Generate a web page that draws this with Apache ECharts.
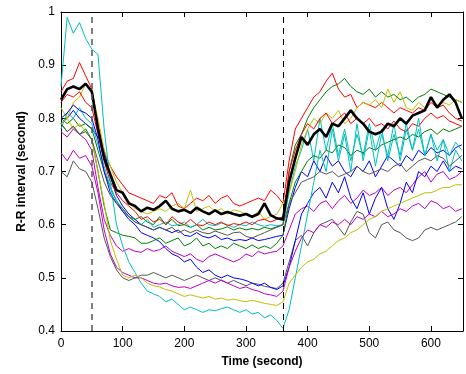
<!DOCTYPE html>
<html>
<head>
<meta charset="utf-8">
<script src="https://cdn.jsdelivr.net/npm/echarts@6/dist/echarts.min.js"></script>
<style>html,body{margin:0;padding:0;background:#fff}#c{width:466px;height:374px}</style>
</head>
<body>
<div id="c"></div>
<script>
const time = [0,10,20,30,40,50,60,70,80,90,100,110,120,130,140,150,160,170,180,190,200,210,220,230,240,250,260,270,280,290,300,310,320,330,340,350,360,370,380,390,400,410,420,430,440,450,460,470,480,490,500,510,520,530,540,550,560,570,580,590,600,610,620,630,640,650];
const eventTimes = [50, 360];
const xTicks = [0,100,200,300,400,500,600];
const yTicks = [0.4,0.5,0.6,0.7,0.8,0.9,1];

const blueA = [0.79,0.80,0.815,0.80,0.79,0.78,0.765,0.74,0.69,0.655,
0.635,0.62,0.61,0.60,0.595,0.59,0.595,0.59,0.585,0.59,
0.58,0.578,0.585,0.578,0.575,0.58,0.572,0.575,0.57,0.572,
0.57,0.575,0.57,0.572,0.575,0.578,0.58,0.63,0.67,0.70,
0.69,0.72,0.70,0.73,0.71,0.72,0.70,0.69,0.71,0.70,
0.72,0.69,0.71,0.73,0.72,0.71,0.73,0.72,0.74,0.73,
0.745,0.735,0.74,0.73,0.745,0.75];
const greenA = [0.80,0.79,0.80,0.785,0.79,0.78,0.74,0.70,0.67,0.645,
0.625,0.615,0.61,0.615,0.605,0.60,0.615,0.60,0.61,0.598,
0.60,0.595,0.60,0.59,0.595,0.59,0.592,0.596,0.59,0.594,
0.59,0.593,0.59,0.595,0.592,0.596,0.60,0.70,0.75,0.77,
0.80,0.82,0.835,0.85,0.86,0.865,0.875,0.86,0.85,0.845,
0.855,0.84,0.85,0.84,0.845,0.835,0.84,0.83,0.84,0.845,
0.855,0.85,0.845,0.84,0.835,0.83];
const redA = [0.85,0.87,0.875,0.905,0.88,0.855,0.79,0.735,0.71,0.69,
0.675,0.66,0.655,0.65,0.645,0.64,0.655,0.65,0.66,0.635,
0.63,0.64,0.65,0.645,0.655,0.64,0.65,0.655,0.64,0.635,
0.64,0.645,0.65,0.645,0.665,0.655,0.64,0.72,0.78,0.80,
0.82,0.84,0.85,0.87,0.885,0.855,0.84,0.845,0.82,0.83,
0.825,0.82,0.83,0.82,0.81,0.82,0.815,0.81,0.82,0.815,
0.83,0.82,0.825,0.81,0.80,0.795];
const cyanA = [0.78,0.81,0.80,0.82,0.80,0.79,0.75,0.71,0.67,0.645,
0.63,0.615,0.605,0.60,0.61,0.595,0.60,0.605,0.598,0.60,
0.605,0.595,0.60,0.61,0.60,0.598,0.603,0.60,0.595,0.60,
0.598,0.605,0.60,0.597,0.60,0.598,0.60,0.66,0.71,0.74,
0.78,0.72,0.80,0.74,0.79,0.73,0.78,0.72,0.77,0.73,
0.79,0.74,0.78,0.72,0.77,0.73,0.79,0.74,0.78,0.73,
0.77,0.74,0.76,0.73,0.755,0.74];
const magentaA = [0.775,0.765,0.78,0.77,0.76,0.74,0.67,0.61,0.58,0.56,
0.55,0.555,0.55,0.548,0.555,0.55,0.553,0.56,0.55,0.545,
0.54,0.545,0.535,0.53,0.54,0.545,0.54,0.535,0.53,0.535,
0.545,0.54,0.55,0.545,0.548,0.55,0.56,0.59,0.62,0.63,
0.635,0.625,0.64,0.645,0.63,0.645,0.655,0.64,0.65,0.665,
0.655,0.66,0.67,0.655,0.665,0.67,0.66,0.675,0.69,0.70,
0.68,0.695,0.70,0.685,0.69,0.70];
const yellowA = [0.82,0.80,0.83,0.84,0.865,0.85,0.80,0.74,0.71,0.68,
0.66,0.645,0.63,0.625,0.62,0.625,0.63,0.625,0.635,0.64,
0.63,0.665,0.625,0.63,0.635,0.625,0.63,0.62,0.628,0.625,
0.62,0.615,0.625,0.61,0.615,0.62,0.64,0.66,0.70,0.75,
0.78,0.80,0.79,0.81,0.80,0.815,0.79,0.80,0.82,0.83,
0.825,0.835,0.82,0.855,0.83,0.85,0.82,0.815,0.83,0.82,
0.84,0.825,0.83,0.825,0.835,0.83];
const grayA = [0.70,0.69,0.72,0.705,0.70,0.68,0.63,0.575,0.54,0.515,
0.50,0.495,0.50,0.505,0.505,0.51,0.505,0.50,0.505,0.50,
0.495,0.50,0.505,0.50,0.495,0.50,0.495,0.49,0.495,0.49,
0.485,0.49,0.488,0.484,0.482,0.48,0.49,0.53,0.57,0.58,
0.56,0.585,0.60,0.605,0.61,0.595,0.58,0.605,0.625,0.62,
0.585,0.575,0.60,0.605,0.59,0.585,0.575,0.57,0.575,0.59,
0.595,0.59,0.595,0.60,0.605,0.615];
const blueB = [0.80,0.81,0.825,0.815,0.81,0.80,0.76,0.70,0.66,0.64,
0.625,0.61,0.60,0.585,0.58,0.575,0.568,0.555,0.545,0.54,
0.53,0.535,0.52,0.51,0.515,0.505,0.50,0.505,0.50,0.498,
0.495,0.49,0.485,0.49,0.482,0.478,0.485,0.52,0.57,0.62,
0.64,0.66,0.67,0.65,0.68,0.66,0.69,0.65,0.63,0.66,
0.62,0.65,0.67,0.63,0.61,0.64,0.68,0.66,0.70,0.69,
0.71,0.70,0.72,0.70,0.71,0.705];
const greenB = [0.79,0.775,0.785,0.77,0.78,0.76,0.70,0.635,0.59,0.585,
0.58,0.578,0.575,0.565,0.565,0.57,0.575,0.565,0.57,0.575,
0.56,0.565,0.575,0.56,0.565,0.555,0.56,0.555,0.565,0.56,
0.555,0.562,0.555,0.56,0.555,0.565,0.58,0.64,0.68,0.70,
0.72,0.73,0.725,0.74,0.735,0.75,0.745,0.73,0.74,0.735,
0.745,0.74,0.75,0.755,0.76,0.765,0.76,0.77,0.765,0.775,
0.78,0.77,0.78,0.775,0.78,0.785];
const redB = [0.83,0.845,0.84,0.85,0.83,0.82,0.77,0.72,0.68,0.66,
0.645,0.635,0.625,0.61,0.615,0.605,0.61,0.60,0.615,0.605,
0.60,0.61,0.60,0.598,0.605,0.60,0.605,0.598,0.602,0.60,
0.605,0.60,0.608,0.61,0.605,0.61,0.615,0.70,0.74,0.77,
0.79,0.78,0.80,0.81,0.79,0.80,0.81,0.79,0.80,0.79,
0.80,0.785,0.79,0.78,0.795,0.78,0.775,0.79,0.785,0.80,
0.81,0.80,0.805,0.795,0.79,0.785];
const cyanB = [0.86,0.99,0.96,0.98,0.95,0.93,0.92,0.78,0.68,0.60,
0.56,0.53,0.51,0.49,0.475,0.47,0.465,0.455,0.46,0.45,
0.44,0.445,0.44,0.435,0.44,0.438,0.442,0.445,0.44,0.435,
0.44,0.432,0.435,0.425,0.43,0.42,0.405,0.44,0.50,0.56,
0.62,0.68,0.74,0.70,0.78,0.72,0.77,0.70,0.79,0.72,
0.78,0.71,0.77,0.73,0.79,0.72,0.78,0.74,0.80,0.73,
0.77,0.72,0.76,0.70,0.74,0.72];
const magentaB = [0.735,0.72,0.74,0.725,0.73,0.71,0.66,0.59,0.545,0.52,
0.51,0.505,0.50,0.50,0.495,0.49,0.488,0.49,0.485,0.482,
0.483,0.48,0.485,0.49,0.495,0.49,0.496,0.49,0.485,0.48,
0.483,0.478,0.475,0.47,0.468,0.465,0.475,0.52,0.55,0.575,
0.59,0.585,0.60,0.595,0.605,0.60,0.61,0.60,0.615,0.61,
0.62,0.615,0.625,0.615,0.62,0.63,0.625,0.635,0.64,0.63,
0.645,0.64,0.63,0.635,0.625,0.63];
const yellowB = [0.79,0.80,0.78,0.79,0.775,0.76,0.70,0.64,0.57,0.535,
0.505,0.50,0.505,0.50,0.49,0.485,0.483,0.478,0.475,0.47,
0.465,0.468,0.465,0.462,0.465,0.46,0.462,0.458,0.46,0.457,
0.455,0.458,0.455,0.452,0.45,0.448,0.455,0.49,0.505,0.52,
0.53,0.535,0.545,0.55,0.56,0.57,0.575,0.585,0.59,0.60,
0.61,0.615,0.625,0.63,0.635,0.64,0.645,0.65,0.655,0.66,
0.66,0.665,0.67,0.67,0.675,0.675];
const grayB = [0.79,0.775,0.785,0.77,0.775,0.76,0.72,0.68,0.655,0.64,
0.63,0.615,0.605,0.60,0.595,0.59,0.595,0.59,0.595,0.585,
0.59,0.585,0.59,0.585,0.583,0.588,0.584,0.58,0.585,0.586,
0.578,0.575,0.58,0.585,0.59,0.595,0.60,0.64,0.66,0.68,
0.685,0.69,0.70,0.695,0.70,0.69,0.695,0.70,0.71,0.70,
0.695,0.70,0.705,0.70,0.71,0.715,0.70,0.71,0.72,0.725,
0.72,0.73,0.725,0.71,0.72,0.73];
const blackRef = [0.835,0.855,0.86,0.855,0.865,0.85,0.78,0.725,0.695,0.665,
0.66,0.64,0.635,0.625,0.632,0.628,0.635,0.645,0.63,0.625,
0.628,0.622,0.632,0.625,0.62,0.627,0.62,0.624,0.62,0.617,
0.62,0.615,0.62,0.64,0.618,0.612,0.61,0.68,0.725,0.765,
0.75,0.77,0.78,0.765,0.79,0.785,0.80,0.815,0.80,0.79,
0.775,0.77,0.775,0.79,0.785,0.80,0.79,0.805,0.81,0.815,
0.84,0.82,0.835,0.845,0.83,0.80];

const thin = [
  [blueA,'#0000ff'],[greenA,'#008000'],[redA,'#ff0000'],[cyanA,'#00bfbf'],
  [magentaA,'#bf00bf'],[yellowA,'#bfbf00'],[grayA,'#555555'],
  [blueB,'#0000ff'],[greenB,'#008000'],[redB,'#ff0000'],[cyanB,'#00bfbf'],
  [magentaB,'#bf00bf'],[yellowB,'#bfbf00'],[grayB,'#555555']
];

const font = '"Liberation Sans", Arial, Helvetica, sans-serif';
const series = thin.map(([vals,col]) => ({
  type:'line', data: time.map((t,i)=>[t, vals[i]]), showSymbol:false, symbol:'none',
  lineStyle:{color:col, width:1}, itemStyle:{color:col}, animation:false, silent:true, z:2
}));
series.push({
  type:'line', data: time.map((t,i)=>[t, blackRef[i]]), symbol:'none',
  lineStyle:{color:'#000', width:2.6}, animation:false, silent:true, z:4,
  markLine:{
    silent:true, symbol:'none', label:{show:false}, animation:false,
    data: eventTimes.map((t,i)=>({xAxis:t, lineStyle:{type:[6,5], color: i===0?'#555':'#000', width: i===0?1.5:1}}))
  }
});

const axisCommon = {
  axisLine:{show:true, onZero:false, lineStyle:{color:'#000', width:1}},
  axisTick:{show:true, inside:true, length:5, lineStyle:{color:'#000'}},
  splitLine:{show:false}
};
const chart = echarts.init(document.getElementById('c'), null, {renderer:'canvas'});
chart.setOption({
  animation:false,
  backgroundColor:'#fff',
  grid:{left:61, right:1, top:12, bottom:43, containLabel:false},
  xAxis:[
    Object.assign({type:'value', min:0, max:652, interval:100, position:'bottom',
      name:'Time (second)', nameLocation:'middle', nameGap:25,
      nameTextStyle:{fontFamily:font, fontSize:12, fontWeight:'bold', color:'#000'},
      axisLabel:{fontFamily:font, fontSize:12, color:'#000', margin:7,
        formatter:v=> xTicks.includes(Math.round(v)) && Math.abs(v-Math.round(v))<1e-6 ? String(Math.round(v)) : ''}}, axisCommon),
    Object.assign({type:'value', min:0, max:652, interval:100, position:'top', axisLabel:{show:false}}, axisCommon)
  ],
  yAxis:[
    Object.assign({type:'value', min:0.4, max:1, interval:0.1, position:'left',
      name:'R-R interval (second)', nameLocation:'middle', nameGap:33, nameRotate:90,
      nameTextStyle:{fontFamily:font, fontSize:12, fontWeight:'bold', color:'#000'},
      axisLabel:{fontFamily:font, fontSize:12, color:'#000', margin:6,
        formatter:v=>{const r=Math.round(v*10)/10; return yTicks.includes(r)? String(r):'';}}}, axisCommon),
    Object.assign({type:'value', min:0.4, max:1, interval:0.1, position:'right', axisLabel:{show:false}}, axisCommon)
  ],
  series: series
});
</script>
</body>
</html>
